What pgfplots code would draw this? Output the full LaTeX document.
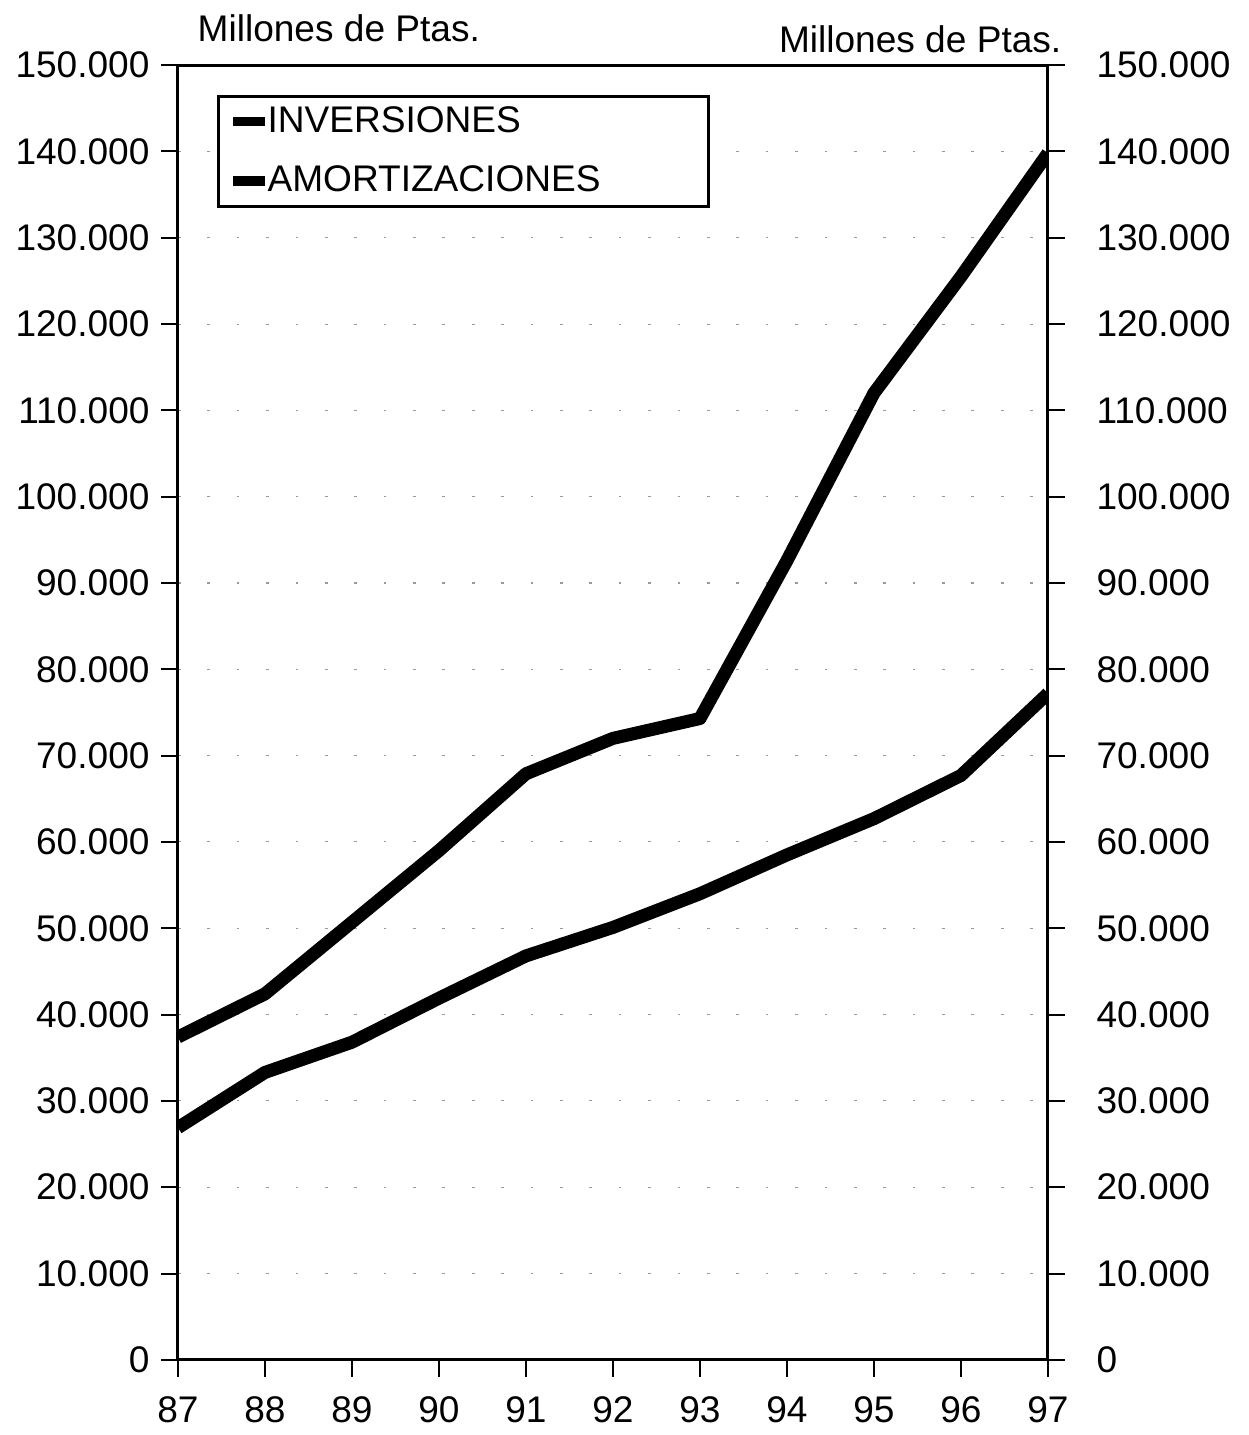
\documentclass[border=0pt]{standalone}
\usepackage{fontspec}
\setmainfont{Liberation Sans}
\usepackage{pgfplots}
\usepackage{pgfplotstable}
\pgfplotsset{compat=1.18}

\pgfplotstableread{
year inv amo
87 37400 26900
88 42400 33300
89 50700 36800
90 59000 41900
91 67900 46800
92 72000 50100
93 74300 54000
94 92600 58500
95 112000 62700
96 125500 67700
97 139800 77200
}\datatable

\pgfplotsset{
  base/.style={
    width=260.5pt, height=387.7pt, scale only axis,
    xmin=87, xmax=97, ymin=0, ymax=150000,
    ytick={0,10000,...,150000},
    scaled y ticks=false,
    yticklabel style={/pgf/number format/fixed, /pgf/number format/1000 sep={.}, /pgf/number format/assume math mode=true},
    xticklabel style={/pgf/number format/assume math mode=true},
    tick align=outside, major tick length=5pt,
    tick style={black, line width=0.6pt},
    axis line style={line width=0.9pt},
  }
}

\begin{document}
\begin{tikzpicture}[font=\fontsize{11.1}{13.3}\selectfont]
\begin{axis}[base,
  clip mode=individual,
  xtick={87,...,97},
  xtick pos=bottom, ytick pos=left,
  ymajorgrids,
  major grid style={black!40, line width=0.3pt, dash pattern=on 0.8pt off 8pt},
  xticklabel style={yshift=-2.5pt},
  legend style={at={(0.045,0.977)}, anchor=north west, draw=black, line width=0.8pt,
    inner xsep=3pt, inner ysep=1pt, row sep=4.5pt, font=\fontsize{11.1}{13.3}\selectfont,
    nodes={inner xsep=2pt}},
  legend cell align=left,
  legend image code/.code={\draw[line width=2.8pt] (0pt,0pt) -- (9.6pt,0pt);},
]
\addplot[black, line width=3.9pt, line join=round] table[x=year, y=inv] {\datatable};
\addlegendentry{\makebox[124.4pt][l]{\hspace{-2.7pt}INVERSIONES}}
\addplot[black, line width=3.9pt, line join=round] table[x=year, y=amo] {\datatable};
\addlegendentry{\makebox[124.4pt][l]{\hspace{-2.7pt}AMORTIZACIONES}}
\coordinate (bl) at (rel axis cs:0,0);
\coordinate (tr) at (rel axis cs:1,1);
\node[anchor=base west, inner sep=0pt] at ([xshift=5.7pt,yshift=7pt]rel axis cs:0,1) {Millones de Ptas.};
\node[anchor=base east, inner sep=0pt] at ([xshift=4.2pt,yshift=3.9pt]rel axis cs:1,1) {Millones de Ptas.};
\end{axis}
\begin{axis}[base,
  axis x line=none, axis y line*=right,
  yticklabel style={xshift=6pt},
]
\end{axis}
\pgfresetboundingbox
\path ([xshift=-53.3pt,yshift=-22.5pt]bl) rectangle ([xshift=60.2pt,yshift=19.5pt]tr);
\end{tikzpicture}
\end{document}
